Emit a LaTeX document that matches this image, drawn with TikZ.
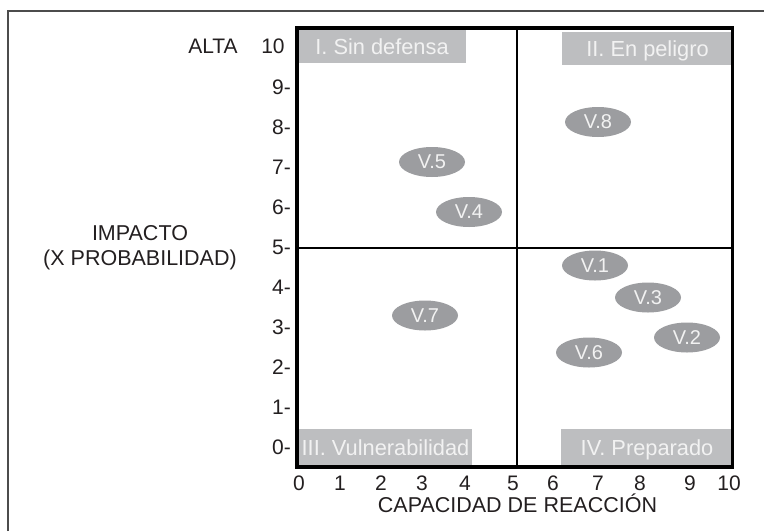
\documentclass[tikz,border=0pt]{standalone}
\usepackage{fontspec}
\setmainfont{Liberation Sans}
\usetikzlibrary{shapes.geometric}
\definecolor{boxgray}{RGB}{189,190,192}
\definecolor{ellgray}{RGB}{156,157,160}
\definecolor{txtwhite}{RGB}{242,242,242}
\definecolor{ink}{RGB}{35,31,32}
\tikzset{
  lbl/.style={font=\fontsize{21}{24}\selectfont, text=ink, inner sep=0pt, anchor=base},
  ttl/.style={font=\fontsize{21.5}{25}\selectfont, text=ink, inner sep=0pt, anchor=base},
  quad/.style={fill=boxgray, text=txtwhite, font=\fontsize{21.8}{24}\selectfont, inner sep=0pt,
    text height=16.5pt, text depth=0pt},
  vul/.style={ellipse, fill=ellgray, text=txtwhite, font=\fontsize{20}{22}\selectfont, minimum width=66pt, minimum height=30pt, inner sep=0pt},
  thick frame/.style={line width=3.6pt, draw=black},
  mid/.style={line width=2pt, draw=black},
}
\begin{document}
\begin{tikzpicture}[x=1pt, y=-1pt]
\useasboundingbox (0,0) rectangle (764,531);
% outer frame
\draw[line width=1.4pt, draw=black!70] (8,531) -- (8,11) -- (764,11);
% quadrant label boxes
\node[quad, minimum width=168pt, minimum height=34pt] (q1) at (382,46) {I. Sin defensa};
\node[quad, minimum width=171pt, minimum height=33pt] (q2) at (647.5,48.5) {II. En peligro};
\node[quad, minimum width=173pt, minimum height=36pt] (q3) at (385.5,447) {III. Vulnerabilidad};
\node[quad, minimum width=172pt, minimum height=36pt] (q4) at (647,447) {IV. Preparado};
% plot frame
\coordinate (tl) at (297,27.7);
\coordinate (br) at (732.5,466.7);
\draw[thick frame] (tl) rectangle (br);
\coordinate (vt) at (517,27.7);
\coordinate (vb) at (517,466.7);
\coordinate (hl) at (297,247.5);
\coordinate (hr) at (732.5,247.5);
\draw[mid] (vt) -- (vb);
\draw[mid] (hl) -- (hr);
% y tick labels
\node[lbl] (y10) at (273,53.5) {10};
\foreach \v in {0,...,9} {
  \node[lbl, anchor=base east] (y\v) at (291,{454.5-40*\v}) {\v-};
}
\node[lbl] (alta) at (213,53.5) {ALTA};
\node[ttl] (imp) at (140,240) {IMPACTO};
\node[ttl] (prob) at (140,265) {(X PROBABILIDAD)};
% x tick labels
\foreach \u/\xx in {0/299,1/340,2/381,3/422,4/465,5/513,6/553,7/598,8/640,9/690,10/729} {
  \node[lbl] (x\u) at (\xx,490) {\u};
}
\node[ttl] (xlab) at (517.5,512) {CAPACIDAD DE REACCIÓN};
% vulnerability ellipses
\node[vul] (v5) at (432,162) {V.5};
\node[vul] (v4) at (469,212) {V.4};
\node[vul] (v8) at (598,122) {V.8};
\node[vul] (v1) at (595,265.5) {V.1};
\node[vul] (v3) at (648,297.5) {V.3};
\node[vul] (v7) at (425,315.5) {V.7};
\node[vul] (v2) at (687,337.5) {V.2};
\node[vul] (v6) at (589,352.5) {V.6};
\end{tikzpicture}
\end{document}
